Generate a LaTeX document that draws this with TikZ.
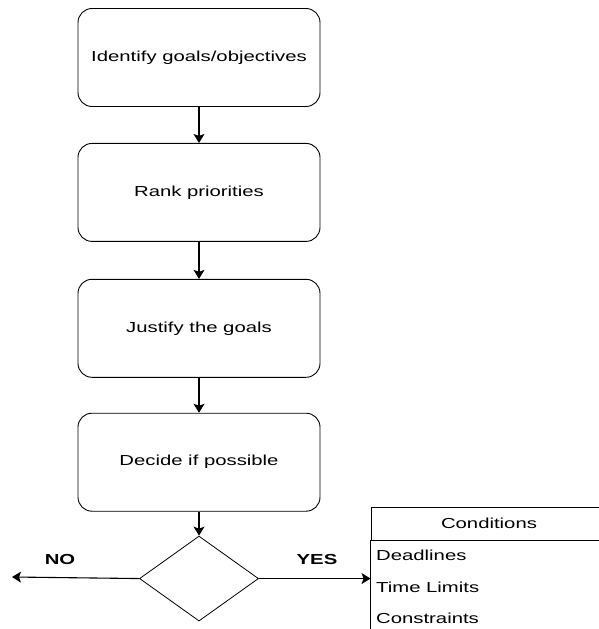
\documentclass[tikz,border=0pt]{standalone}
\usepackage{fontspec}
\setmainfont[FakeStretch=1.4]{Liberation Sans}
\usepackage{tikz}
\usetikzlibrary{shapes,arrows.meta,positioning}

\begin{document}
\begin{tikzpicture}[x=1pt,y=-1pt,
        node distance=36pt,
        stepbox/.style={draw, rounded corners=14pt, line width=0.9pt, minimum width=242pt, minimum height=98pt, font=\fontsize{14.5}{17}\selectfont},
        decide/.style={draw, diamond, aspect=1.4, minimum width=119pt, minimum height=85pt, inner sep=0pt, line width=0.8pt},
        flow/.style={line width=1.1pt, -{Stealth[length=9pt,width=11pt,inset=2pt]}},
        answer/.style={font=\bfseries\fontsize{14.5}{17}\selectfont},
        tblhead/.style={draw, line width=0.9pt, minimum width=236pt, minimum height=33pt, font=\fontsize{14.5}{17}\selectfont},
        item/.style={anchor=west, inner sep=0pt, font=\fontsize{14.5}{17}\selectfont}]
        \useasboundingbox (0,0) rectangle (599,629);
        \clip (0,0) rectangle (599,629);

        % Steps
        \node[stepbox] (s1) at (199,57.5) {Identify goals/objectives};
        \node[stepbox, below=of s1] (s2) {Rank priorities};
        \node[stepbox, below=37pt of s2] (s3) {Justify the goals};
        \node[stepbox, below=35pt of s3] (s4) {Decide if possible};
        \node[decide, below=24pt of s4] (dec) {};

        % Conditions table
        \node[tblhead] (cond) at (489,523.5) {Conditions};
        \draw[line width=0.9pt] (cond.south west) -- ++(0,100);
        \node[item] (dl) at (376,555) {Deadlines};
        \node[item] (tl) at (376,587) {Time Limits};
        \node[item] (cs) at (376,618) {Constraints};

        % Flow
        \draw[flow] (s1) -- (s2);
        \draw[flow] (s2) -- (s3);
        \draw[flow] (s3) -- (s4);
        \draw[flow] (s4) -- (dec);
        \coordinate (out) at (12,577);
        \draw[flow] (dec.west) -- (out);
        \draw[flow] (dec.east) -- (dec.east -| cond.west);
        \node[answer] (no) at (60,560) {NO};
        \node[answer] (yes) at (317,560) {YES};
    \end{tikzpicture}
\end{document}
